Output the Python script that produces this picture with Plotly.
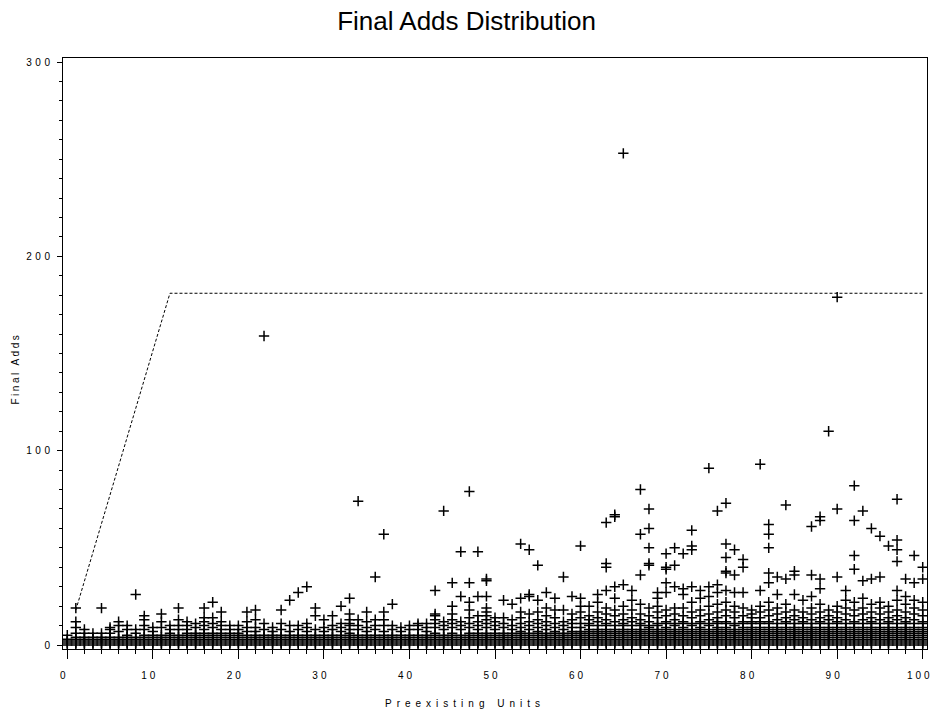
import plotly.graph_objects as go

# ---- data ----
x_tick_vals = [0, 10, 20, 30, 40, 50, 60, 70, 80, 90, 100]
y_tick_vals = [0, 100, 200, 300]

# solid band: every integer 0..dense_top[x] is present at column x
dense_top = [3, 4, 4, 4, 4, 4, 4, 5, 4, 5, 5, 5, 6, 5, 6, 6, 6, 6, 6, 6, 6,
             5, 5, 5, 5, 5, 5, 5, 5, 5, 5, 5, 5, 6, 5, 5, 5, 5, 5, 5, 5,
             5, 5, 6, 5, 6, 5, 6, 6, 6, 6, 6, 6, 7, 6, 7, 6, 7, 6, 7, 7,
             8, 8, 8, 8, 8, 8, 8, 9, 8, 9, 8, 9, 8, 9, 8, 9, 9, 8, 9, 9,
             9, 9, 9, 9, 9, 9, 9, 9, 9, 9, 9, 9, 9, 9, 9, 9, 9, 9, 9, 9]

# scattered values above the band, per column x = 0..100
extra_y = [
    [5], [6, 9, 12, 19], [6, 8], [6], [6, 19], [6, 8, 9], [7, 10, 12], [8, 10], [6, 8, 26],
    [8, 10, 13, 15], [7, 9], [9, 12, 16], [8, 10], [8, 10, 13, 19], [8, 10, 12], [9, 11],
    [8, 10, 12, 14, 19], [9, 11, 14, 22], [8, 10, 12, 17], [8, 10], [8, 10],
    [7, 9, 12, 17], [7, 9, 13, 18], [8, 11, 159], [7, 9], [8, 11, 18], [7, 10, 23],
    [8, 10, 27], [7, 9, 11, 30], [8, 15, 19], [7, 9, 13], [8, 10, 15], [7, 9, 11, 20],
    [8, 10, 11, 13, 16, 24], [8, 10, 13, 74], [7, 9, 12, 17], [8, 10, 13, 35],
    [7, 10, 13, 17, 57], [8, 10, 21], [7, 9], [8, 10],
    [8, 10, 11], [7, 9, 11], [9, 11, 13, 15, 16, 28], [8, 10, 12, 69],
    [9, 11, 13, 16, 20, 32], [8, 10, 12, 25, 48], [9, 11, 14, 18, 22, 32, 79],
    [8, 10, 12, 15, 25, 48], [9, 11, 13, 15, 17, 19, 25, 33, 34], [8, 10, 12, 14],
    [9, 11, 14, 23], [8, 10, 13, 21], [9, 11, 14, 17, 24, 52], [8, 10, 12, 16, 25, 26, 49],
    [9, 11, 13, 17, 23, 41], [8, 10, 12, 15, 19, 27], [9, 11, 14, 18, 24],
    [8, 10, 12, 18, 35], [9, 11, 13, 16, 25], [9, 11, 14, 17, 20, 24, 51],
    [10, 11, 13, 15, 20], [10, 12, 14, 17, 22, 26], [10, 11, 13, 16, 19, 28, 40, 42, 63],
    [10, 12, 15, 18, 24, 30, 66, 67], [10, 11, 13, 16, 20, 31, 253],
    [10, 12, 14, 18, 23, 28], [10, 11, 13, 16, 21, 36, 57, 80],
    [10, 12, 15, 19, 41, 42, 50, 60, 70], [10, 11, 14, 17, 20, 24, 27],
    [11, 12, 15, 18, 27, 32, 39, 40, 47], [10, 11, 13, 16, 19, 30, 41, 50],
    [11, 12, 15, 19, 26, 29, 47], [10, 11, 14, 17, 22, 30, 49, 51, 59],
    [11, 12, 15, 18, 24, 28], [10, 11, 13, 16, 20, 25, 30, 91],
    [11, 12, 14, 17, 21, 27, 31, 69], [11, 12, 15, 18, 22, 28, 37, 38, 45, 52, 73],
    [10, 11, 14, 17, 20, 27, 36, 49], [11, 12, 15, 19, 27, 40, 44], [11, 12, 14, 16, 18],
    [11, 12, 14, 17, 20, 28, 93], [11, 12, 15, 18, 22, 32, 37, 50, 57, 62],
    [11, 13, 16, 19, 26, 35], [11, 12, 14, 17, 21, 34, 72], [11, 13, 15, 18, 26, 36, 38],
    [11, 12, 14, 17, 23], [11, 13, 16, 19, 25, 36, 61], [11, 12, 14, 17, 21, 29, 34, 64, 66],
    [11, 13, 15, 18, 110], [11, 12, 14, 17, 20, 35, 70, 179], [11, 13, 16, 19, 23, 28],
    [11, 12, 15, 18, 22, 39, 46, 64, 82], [11, 13, 16, 19, 24, 33, 69],
    [11, 12, 14, 17, 21, 34, 60], [11, 13, 16, 19, 22, 35, 56], [11, 12, 14, 17, 20, 51],
    [11, 13, 15, 18, 23, 28, 43, 49, 54, 75], [11, 12, 14, 17, 21, 25, 34],
    [11, 13, 16, 19, 23, 32, 46], [11, 12, 15, 18, 22, 34, 40],
]

# reference (limit) line
limit_x = [1, 12, 100]
limit_y = [18, 181, 181]

# ---- assemble points ----
px, py = [], []
for xi in range(len(dense_top)):
    for v in range(dense_top[xi] + 1):
        px.append(xi)
        py.append(v)
    for v in extra_y[xi]:
        px.append(xi)
        py.append(v)

fig = go.Figure()
fig.add_trace(go.Scatter(
    x=limit_x, y=limit_y, mode="lines",
    line=dict(color="black", width=1, dash="3px,2px"),
    hoverinfo="skip", showlegend=False))
fig.add_trace(go.Scatter(
    x=px, y=py, mode="markers",
    marker=dict(symbol="cross-thin", size=7.4, color="black",
                line=dict(color="black", width=1.5)),
    showlegend=False))

tick_font = dict(family="Liberation Sans, Arial, sans-serif", size=10, color="black")

fig.update_layout(
    width=933, height=715,
    margin=dict(l=63, r=6, t=58, b=66, autoexpand=False),
    paper_bgcolor="white", plot_bgcolor="white",
    title=dict(text="Final Adds Distribution", x=0.5, xanchor="center",
               y=1 - 21 / 715, yanchor="middle", yref="container",
               font=dict(family="Liberation Sans, Arial", size=26, color="black")),
    xaxis=dict(range=[-0.5, 100.5], tickvals=x_tick_vals, ticktext=[str(v) for v in x_tick_vals],
               showgrid=False, zeroline=False, showline=True, mirror=True,
               linecolor="black", linewidth=1, ticks="outside", ticklen=9,
               ticklabelstandoff=8,
               tickcolor="black", tickfont=tick_font, automargin=False,
               minor=dict(dtick=2, tick0=0, ticks="outside", ticklen=4, tickcolor="black", showgrid=False)),
    yaxis=dict(range=[-2.06, 302.06], tickvals=y_tick_vals, ticktext=[str(v) for v in y_tick_vals],
               showgrid=False, zeroline=False, showline=True, mirror=True,
               linecolor="black", linewidth=1, ticks="outside", ticklen=5,
               tickcolor="black", tickfont=tick_font, automargin=False,
               minor=dict(dtick=10, tick0=0, ticks="outside", ticklen=3, tickcolor="black", showgrid=False)),
    annotations=[
        dict(text="Preexisting Units", xref="paper", yref="paper",
             x=(462 - 63) / 864, y=-(703 - 649) / 591, xanchor="center", yanchor="middle",
             showarrow=False, font=dict(family="Liberation Sans, Arial", size=10, color="black")),
        dict(text="Final Adds", xref="paper", yref="paper",
             x=-(63 - 15) / 864, y=(649 - 369) / 591, xanchor="center", yanchor="middle",
             textangle=-90, showarrow=False,
             font=dict(family="Liberation Sans, Arial", size=10, color="black")),
    ],
)

post = """
(function(){
  document.documentElement.style.margin='0';
  document.documentElement.style.overflow='hidden';
  document.body.style.margin='0';
  document.body.style.padding='0';
  document.body.style.overflow='hidden';
  function sp(){
    document.querySelectorAll('.xtick text').forEach(function(t){
      t.setAttribute('letter-spacing','3px'); t.setAttribute('dx','-3');});
    document.querySelectorAll('.ytick text').forEach(function(t){
      t.setAttribute('letter-spacing','3.5px'); t.setAttribute('dx','-1.5');});
    var a = document.querySelectorAll('.annotation-text');
    if (a.length > 0) { a[0].setAttribute('letter-spacing','5px'); a[0].setAttribute('dx','2.5'); }
    if (a.length > 1) { a[1].setAttribute('letter-spacing','2.5px'); }
  }
  sp();
  var gd = document.getElementById('{plot_id}');
  if (gd && gd.on) { gd.on('plotly_afterplot', sp); }
})();
"""
fig.write_html("out.html", post_script=post, config={"displayModeBar": False})
